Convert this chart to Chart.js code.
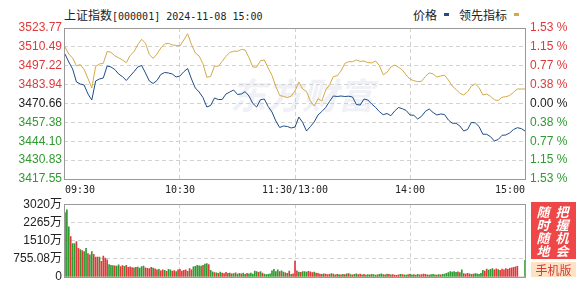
<!DOCTYPE html>
<html>

<head>
  <meta charset="utf-8">
  <title>上证指数 分时</title>
  <!-- Include Chart.js library -->
  <script src="https://cdn.jsdelivr.net/npm/chart.js"></script>
</head>

<body>
  <div class="wrap">
    <!-- title + legend -->
    <div class="title">上证指数<span class="mono">[000001] 2024-11-08 15:00</span></div>
    <div class="legend-text" style="left:413px">价格</div>
    <div class="legend-mark" style="left:444px;background:#1d4c87"></div>
    <div class="legend-text" style="left:459px">领先指标</div>
    <div class="legend-mark" style="left:514px;background:#d3aa47"></div>

    <canvas id="priceChart" width="587" height="200"></canvas>
    <canvas id="volChart" width="587" height="92"></canvas>

    <!-- ad box bottom right -->
    <div class="ad">
      <div class="col" style="left:5px">随<br>时<br>随<br>地</div>
      <div class="col" style="left:24px">把<br>握<br>机<br>会</div>
    </div>
    <div class="mobile">手机版</div>
  </div>
</body>

<style>
  * {
    box-sizing: border-box;
  }

  body {
    margin: 0;
    background: #fff;
  }

  .wrap {
    position: relative;
    width: 587px;
    height: 287px;
    overflow: hidden;
    font-family: 'Noto Sans CJK SC', sans-serif;
  }

  .title {
    position: absolute;
    left: 64px;
    top: 6px;
    line-height: 18px;
    font-size: 12px;
    color: #222;
    white-space: nowrap;
  }

  .title .mono {
    font-family: 'DejaVu Sans Mono', monospace;
    font-size: 10px;
  }

  .legend-text {
    position: absolute;
    top: 6px;
    line-height: 18px;
    font-size: 12px;
    color: #222;
  }

  .legend-mark {
    position: absolute;
    top: 13px;
    width: 5px;
    height: 3px;
  }

  #priceChart {
    position: absolute;
    left: 0;
    top: 0;
  }

  #volChart {
    position: absolute;
    left: 0;
    top: 195px;
  }

  .ad {
    position: absolute;
    left: 531px;
    top: 202px;
    width: 45px;
    height: 57px;
    background: #ef4747;
  }

  .ad .col {
    position: absolute;
    top: 3px;
    width: 14px;
    text-align: center;
    color: #fff;
    font-size: 13px;
    line-height: 13px;
    font-style: italic;
    font-weight: bold;
  }

  .mobile {
    position: absolute;
    left: 531px;
    top: 262px;
    width: 45px;
    height: 15px;
    background: #fde3c4;
    color: #d63a3a;
    font-size: 12px;
    line-height: 15px;
    text-align: center;
  }
</style>

<script>
  // previous close, base of the % axis
  const prevClose = 3470.66;

  // one value every 2 minutes, 09:30 .. 11:30 then 13:00 .. 15:00
  const sampleStep = 2;
  const priceValues = [
    3505.48, 3499.86, 3494.93, 3485.79, 3484.38, 3483.68, 3477.35, 3473.13, 3486.49, 3487.90,
    3488.60, 3497.04, 3496.34, 3494.58, 3491.42, 3489.52, 3486.84, 3490.01, 3493.03, 3496.34,
    3497.39, 3492.12, 3486.49, 3484.73, 3486.84, 3491.06, 3492.47, 3492.12, 3491.42, 3489.31,
    3490.01, 3493.03, 3495.28, 3487.90, 3481.57, 3478.75, 3474.88, 3468.20, 3469.26, 3474.53,
    3473.48, 3473.48, 3477.35, 3478.75, 3480.16, 3477.00, 3477.35, 3478.96, 3475.94, 3470.66,
    3468.20, 3473.34, 3473.83, 3468.55, 3464.68, 3458.35, 3453.78, 3454.84, 3454.48, 3453.43,
    3454.13, 3461.17, 3457.30, 3451.32, 3454.34, 3457.65, 3462.57, 3465.04, 3467.85, 3472.07,
    3475.94, 3475.59, 3475.94, 3475.59, 3475.80, 3475.24, 3469.96, 3469.61, 3473.83, 3473.13,
    3470.31, 3467.99, 3464.97, 3462.79, 3463.63, 3462.08, 3465.39, 3467.85, 3467.01, 3465.74,
    3462.57, 3462.36, 3459.76, 3461.66, 3465.11, 3466.80, 3464.33, 3462.57, 3463.28, 3462.93,
    3459.06, 3456.81, 3456.74, 3454.84, 3451.32, 3452.37, 3457.30, 3457.09, 3454.48, 3449.07,
    3449.00, 3447.31, 3444.28, 3445.34, 3448.29, 3448.51, 3449.98, 3452.37, 3453.64, 3453.01,
    3451.32
  ];
  const leadValues = [
    3510.41, 3505.48, 3502.67, 3497.04, 3498.10, 3494.58, 3488.25, 3481.57, 3496.69, 3498.45,
    3498.94, 3507.24, 3506.68, 3504.22, 3502.81, 3501.26, 3499.36, 3504.43, 3507.10, 3512.03,
    3515.82, 3513.08, 3505.13, 3502.39, 3505.48, 3509.70, 3512.52, 3513.01, 3511.82, 3511.60,
    3511.11, 3515.33, 3519.69, 3512.17, 3506.19, 3504.08, 3498.59, 3489.09, 3489.66, 3497.04,
    3496.83, 3500.28, 3503.87, 3506.61, 3507.45, 3507.38, 3508.65, 3508.30, 3502.88, 3496.34,
    3496.20, 3500.84, 3501.26, 3495.57, 3490.36, 3482.62, 3476.29, 3475.66, 3474.81, 3475.80,
    3479.46, 3485.79, 3480.86, 3479.11, 3472.42, 3468.91, 3474.04, 3472.42, 3480.16, 3483.68,
    3489.66, 3490.15, 3493.53, 3498.94, 3500.07, 3500.07, 3501.26, 3500.21, 3500.56, 3499.50,
    3499.15, 3500.56, 3497.39, 3490.85, 3492.61, 3496.34, 3497.75, 3496.13, 3494.23, 3490.71,
    3487.76, 3486.70, 3486.00, 3486.28, 3489.66, 3492.19, 3491.49, 3489.31, 3490.01, 3490.57,
    3487.19, 3482.97, 3480.65, 3477.84, 3476.64, 3478.89, 3482.83, 3484.52, 3481.92, 3476.64,
    3477.35, 3475.66, 3473.27, 3472.77, 3475.02, 3475.45, 3476.29, 3478.61, 3480.86, 3480.86,
    3480.86
  ];

  // volume per minute (万), 241 bars
  const volumeValues = [
    2672, 2782, 2084, 1673, 1385, 1385, 1467, 1192, 1138, 1097,
    1056, 1192, 974, 920, 1056, 945, 822, 822, 822, 645,
    863, 781, 715, 520, 480, 470, 460, 450, 500, 430,
    470, 440, 480, 400, 420, 390, 380, 400, 410, 370,
    430, 450, 380, 360, 350, 400, 370, 340, 300, 320,
    260, 300, 280, 240, 320, 300, 250, 270, 230, 300,
    320, 250, 280, 300, 240, 350, 300, 420, 440, 480,
    460, 450, 480, 540, 560, 520, 280, 210, 180, 170,
    150, 200, 160, 140, 190, 150, 160, 130, 140, 170,
    120, 150, 130, 160, 110, 150, 130, 160, 120, 250,
    220, 190, 230, 160, 120, 100, 110, 130, 260, 320,
    230, 300, 220, 260, 200, 170, 150, 250, 110, 130,
    660, 260, 200, 190, 220, 230, 200, 240, 210, 180,
    200, 160, 150, 120, 110, 130, 120, 100, 110, 140,
    120, 90, 110, 100, 90, 110, 100, 130, 140, 100,
    90, 110, 130, 100, 120, 90, 110, 80, 100, 90,
    110, 100, 80, 90, 110, 130, 100, 90, 120, 110,
    90, 100, 80, 70, 90, 110, 100, 90, 80, 100,
    120, 90, 100, 80, 110, 90, 100, 120, 110, 90,
    80, 100, 110, 90, 80, 100, 90, 110, 120, 150,
    180, 220, 200, 230, 190, 210, 180, 300, 140, 120,
    150, 130, 110, 120, 140, 130, 110, 150, 280, 250,
    330, 290, 320, 350, 300, 340, 310, 280, 330, 300,
    350, 320, 360, 380, 400, 420, 440, 0, 0, 0,
    690
  ];
  // r = price up that minute, g = down
  const volumeDir =
    'rggrggrrgr' + 'ggrggrrrgr' + 'rrrgggrggr' + 'rgrrrrgrgg' + 'ggrrrrgrrg' +
    'rrgrggrrgr' + 'rrrrgrrggg' + 'ggrggrggrg' + 'rgrrrgrggr' + 'ggrggrgggg' +
    'grgrgggggg' + 'ggrggrgrgr' + 'rrgrgggrrr' + 'grrrgrrrrg' + 'rgrgrgrgrg' +
    'rggrrgrggr' + 'gggrgggrgr' + 'grrrrgrggr' + 'ggrggrrrrg' + 'rgggrgrggg' +
    'gggggrggrr' + 'rrgrgggggr' + 'rgggrrgrrr' + 'rrrrrrrrrr' + 'g';

  // axis ticks
  const timeTicks = [0, 60, 120, 180, 240];
  const timeLabels = ['09:30', '10:30', '11:30/13:00', '14:00', '15:00'];
  const priceTicks = [3417.55, 3430.83, 3444.10, 3457.38, 3470.66, 3483.94, 3497.22, 3510.49, 3523.77];
  const pctLabels = ['1.53 %', '1.15 %', '0.77 %', '0.38 %', '0.00 %', '0.38 %', '0.77 %', '1.15 %', '1.53 %'];
  const volTicks = [0, 755.08, 1510.16, 2265.24, 3020.32];
  const volLabels = ['0', '755.08万', '1510万', '2265万', '3020万'];

  const RED = '#e0393b';
  const GREEN = '#2f9a2f';
  const GRID = '#d2d2d2';

  Chart.defaults.font.family = "'Liberation Sans', 'Noto Sans CJK SC', sans-serif";
  Chart.defaults.font.size = 12;

  // grey frame around the plot area
  const framePlugin = {
    id: 'frame',
    afterDraw(chart) {
      const a = chart.chartArea;
      const c = chart.ctx;
      c.save();
      c.strokeStyle = '#999';
      c.lineWidth = 1;
      const l = Math.round(a.left) + 0.5;
      const t = Math.round(a.top) + 0.5;
      c.strokeRect(l, t, Math.round(a.right) - Math.round(a.left) - 1, Math.round(a.bottom) - Math.round(a.top));
      c.restore();
    }
  };

  // faint watermark behind the lines
  const watermarkPlugin = {
    id: 'watermark',
    beforeDatasetsDraw(chart) {
      const a = chart.chartArea;
      const c = chart.ctx;
      c.save();
      c.fillStyle = 'rgba(205, 210, 225, 0.3)';
      c.font = "italic bold 36px 'Noto Sans CJK SC'";
      c.textBaseline = 'middle';
      c.fillText('东方财富', a.left + 166, 95);
      c.restore();
    }
  };

  // shared x axis (minute index)
  function timeAxis(showLabels, height) {
    return {
      type: 'linear',
      offset: false,
      min: -0.5,
      max: 240.5,
      afterBuildTicks: s => { s.ticks = timeTicks.map(v => ({ value: v })); },
      afterFit: s => { s.height = height; },
      ticks: {
        display: showLabels,
        autoSkip: false,
        maxRotation: 0,
        align: 'inner',
        padding: 5,
        color: '#222',
        font: { family: "'DejaVu Sans Mono', monospace", size: 10 },
        callback: (v, i) => timeLabels[i]
      },
      grid: {
        offset: false,
        drawTicks: false,
        color: ctx => (ctx.index === 0 || ctx.index === timeTicks.length - 1) ? 'transparent' : GRID
      },
      border: { display: false, dash: [4, 3] }
    };
  }

  function priceColor(v) {
    if (Math.abs(v - prevClose) < 0.001) return '#222';
    return v > prevClose ? RED : GREEN;
  }

  const pctMin = (priceTicks[0] / prevClose - 1) * 100;
  const pctMax = (priceTicks[priceTicks.length - 1] / prevClose - 1) * 100;

  new Chart(document.getElementById('priceChart'), {
    type: 'line',
    data: {
      datasets: [
        {
          label: '价格',
          data: priceValues.map((v, k) => ({ x: k * sampleStep, y: v })),
          borderColor: '#1d4c87',
          borderWidth: 1,
          pointRadius: 0,
          yAxisID: 'y'
        },
        {
          label: '领先指标',
          data: leadValues.map((v, k) => ({ x: k * sampleStep, y: v })),
          borderColor: '#d3aa47',
          borderWidth: 1,
          pointRadius: 0,
          yAxisID: 'y'
        }
      ]
    },
    options: {
      responsive: false,
      animation: false,
      layout: { padding: { top: 28 } },
      plugins: { legend: { display: false }, tooltip: { enabled: false } },
      scales: {
        x: timeAxis(true, 21),
        y: {
          position: 'left',
          min: priceTicks[0],
          max: priceTicks[priceTicks.length - 1],
          afterBuildTicks: s => { s.ticks = priceTicks.map(v => ({ value: v })); },
          afterFit: s => { s.width = 64; },
          ticks: {
            autoSkip: false,
            padding: 2,
            color: ctx => priceColor(ctx.tick.value),
            callback: v => v.toFixed(2)
          },
          grid: {
            drawTicks: false,
            color: ctx => (ctx.index === 0 || ctx.index === priceTicks.length - 1) ? 'transparent' : GRID
          },
          border: { display: false, dash: [4, 3] }
        },
        pct: {
          position: 'right',
          min: pctMin,
          max: pctMax,
          afterBuildTicks: s => { s.ticks = priceTicks.map(p => ({ value: (p / prevClose - 1) * 100 })); },
          afterFit: s => { s.width = 61; },
          ticks: {
            autoSkip: false,
            padding: 4,
            color: ctx => priceColor(priceTicks[ctx.index]),
            callback: (v, i) => pctLabels[pctLabels.length - 1 - i]
          },
          grid: { display: false, drawTicks: false },
          border: { display: false }
        }
      }
    },
    plugins: [watermarkPlugin, framePlugin]
  });

  new Chart(document.getElementById('volChart'), {
    type: 'bar',
    data: {
      datasets: [{
        data: volumeValues.map((v, i) => ({ x: i, y: v })),
        backgroundColor: volumeDir.split('').map(d => d === 'r' ? RED : GREEN),
        borderWidth: 0,
        barThickness: 1
      }]
    },
    options: {
      responsive: false,
      animation: false,
      layout: { padding: { top: 8, right: 61 } },
      plugins: { legend: { display: false }, tooltip: { enabled: false } },
      scales: {
        x: timeAxis(false, 10),
        y: {
          min: 0,
          max: volTicks[volTicks.length - 1],
          afterBuildTicks: s => { s.ticks = volTicks.map(v => ({ value: v })); },
          afterFit: s => { s.width = 64; },
          ticks: {
            autoSkip: false,
            padding: 2,
            color: '#222',
            callback: (v, i) => volLabels[i]
          },
          grid: {
            drawTicks: false,
            color: ctx => (ctx.index === 0 || ctx.index === volTicks.length - 1) ? 'transparent' : GRID
          },
          border: { display: false, dash: [4, 3] }
        }
      }
    },
    plugins: [framePlugin]
  });
</script>

</html>
